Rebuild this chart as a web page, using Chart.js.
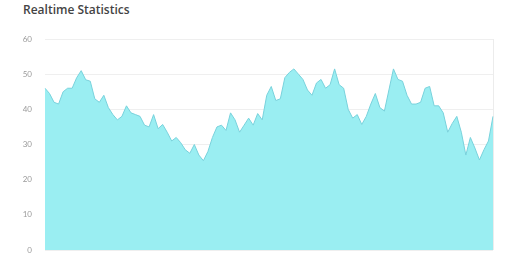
<!DOCTYPE html>
<html>
<head>
<meta charset="utf-8">
<script src="https://cdn.jsdelivr.net/npm/chart.js@4.4.0/dist/chart.umd.min.js"></script>
<style>
html,body{margin:0;padding:0;background:#fff;}
#wrap{position:relative;width:518px;height:277px;overflow:hidden;}
#title{position:absolute;left:23px;top:1px;font:600 12px "Open Sans",Lato,sans-serif;color:#444;}
#cv{position:absolute;left:0;top:0;}
</style>
</head>
<body>
<div id="wrap">
<div id="title">Realtime Statistics</div>
<canvas id="cv" width="518" height="277"></canvas>
</div>
<script>
const values = [46,44.5,42,41.5,45,46,46,49,51,48.4,48,43,42,44,40.5,38.5,37,38,41,39,
38.5,38,35.5,35,38.5,34.5,35.7,33.5,31,32,30.5,28.5,27.5,30,27,25.4,28,32,35,35.5,
34,39,37,33.5,35.5,37.5,35.5,38.8,37,44,46.5,42.5,43,49,50.5,51.5,50,48.5,45.5,44,
47.5,48.5,46,47,51.5,47,46,40,37.5,38.5,35.7,38,41.5,44.5,40.5,39.5,45.5,51.5,48.5,48,
44,41.5,41.5,42,46,46.5,41,41,39,33.5,36,38,33.5,27,32,29,25.6,28.5,31,38];
const labels = values.map((v,i)=>String(i+1));
const yTicks = [0,10,20,30,40,50,60];

new Chart(document.getElementById('cv'), {
  type: 'line',
  data: {
    labels: labels,
    datasets: [{
      data: values,
      fill: 'origin',
      backgroundColor: '#9aeef2',
      borderColor: '#79d2dc',
      borderWidth: 1,
      pointRadius: 0,
      tension: 0
    }]
  },
  options: {
    responsive: false,
    animation: false,
    layout: { padding: { left: 11, right: 25, top: 39, bottom: 27 } },
    plugins: { legend: { display: false }, tooltip: { enabled: false } },
    scales: {
      x: {
        offset: false,
        ticks: { display: false, autoSkip: false },
        grid: {
          drawTicks: false,
          color: (c) => (c.index === values.length - 1 ? '#ececec' : 'rgba(0,0,0,0)')
        },
        border: { display: false }
      },
      y: {
        min: 0, max: 60,
        afterFit: (s) => { s.width = 34; },
        afterBuildTicks: (s) => { s.ticks = yTicks.map(v => ({ value: v })); },
        ticks: { color: '#9a9a9a', font: { size: 8, family: 'Lato' }, padding: 13 },
        grid: { color: '#efefef', drawTicks: false },
        border: { display: false }
      }
    }
  }
});
</script>
</body>
</html>
